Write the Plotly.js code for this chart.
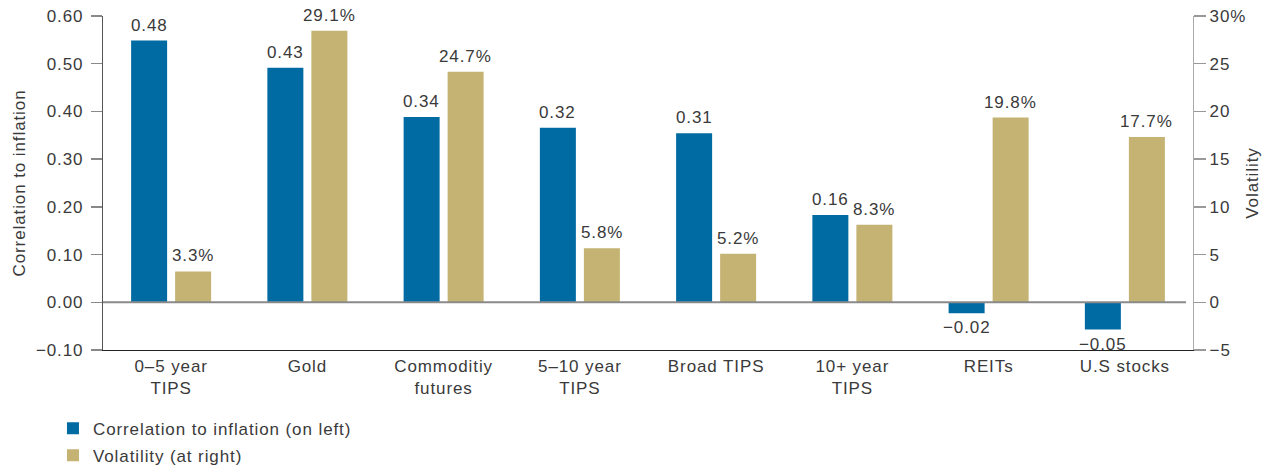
<!DOCTYPE html>
<html>
<head>
<meta charset="utf-8">
<script src="https://cdn.plot.ly/plotly-3.0.1.min.js"></script>
<style>
html,body{margin:0;padding:0;background:#fff;}
#chart{width:1269px;height:468px;}
svg text{letter-spacing:0.9px;}
</style>
</head>
<body>
<div id="chart"></div>
<script>
// ---- data ----
const categories = ['0–5 year<br>TIPS', 'Gold', 'Commoditiy<br>futures', '5–10 year<br>TIPS', 'Broad TIPS', '10+ year<br>TIPS', 'REITs', 'U.S stocks'];
const correlation = [0.48, 0.43, 0.34, 0.32, 0.31, 0.16, -0.02, -0.05];
const volatility = [3.3, 29.1, 24.7, 5.8, 5.2, 8.3, 19.8, 17.7];
const leftTicks = [-0.10, 0.00, 0.10, 0.20, 0.30, 0.40, 0.50, 0.60];
const rightTicks = [-5, 0, 5, 10, 15, 20, 25, 30];
const rightTickText = ['−5', '0', '5', '10', '15', '20', '25', '30%'];

// ---- styles ----
const BLUE = '#006ba3';
const TAN = '#c4b373';
const TEXT = '#3a3a3a';
const FONT = 'Liberation Sans, Arial, sans-serif';
const FS = 17;
const BW = 0.2642;   // bar width (category units)
const GAP = 0.0294;  // half-gap between paired bars

const fmtCorr = v => (v < 0 ? '−' : '') + Math.abs(v).toFixed(2);
const fmtVol = v => v.toFixed(1) + '%';

const traces = [
  { type: 'scatter', x: categories, y: categories.map(() => null), yaxis: 'y', showlegend: false, hoverinfo: 'skip', mode: 'markers' },
  { type: 'scatter', x: categories, y: categories.map(() => null), yaxis: 'y2', showlegend: false, hoverinfo: 'skip', mode: 'markers' },
  { type: 'bar', name: 'Correlation to inflation (on left)', x: categories, y: correlation, yaxis: 'y3',
    legendgroup: 'a', marker: { color: BLUE }, width: BW, offset: -(BW + GAP), hoverinfo: 'skip' },
  { type: 'bar', name: 'Volatility (at right)', x: categories, y: volatility, yaxis: 'y4',
    legendgroup: 'b', marker: { color: TAN }, width: BW, offset: GAP, hoverinfo: 'skip' }
];

const annotations = [];
correlation.forEach((v, i) => {
  annotations.push({ x: i - (GAP + BW / 2), y: v, xref: 'x', yref: 'y3', text: fmtCorr(v),
    showarrow: false, yanchor: v < 0 ? 'top' : 'bottom', yshift: v < 0 ? -3 : 4,
    font: { family: FONT, size: FS, color: TEXT } });
});
volatility.forEach((v, i) => {
  annotations.push({ x: i + (GAP + BW / 2), y: v, xref: 'x', yref: 'y4', text: fmtVol(v),
    showarrow: false, yanchor: 'bottom', yshift: 4,
    font: { family: FONT, size: FS, color: TEXT } });
});

const layout = {
  width: 1269, height: 468,
  margin: { l: 103, r: 76, t: 16, b: 118, autoexpand: false },
  paper_bgcolor: '#fff', plot_bgcolor: '#fff',
  font: { family: FONT, size: FS, color: TEXT },
  showlegend: true,
  legend: { x: -0.0459, y: -0.1817, xanchor: 'left', yanchor: 'top', orientation: 'v',
    traceorder: 'grouped', tracegroupgap: 2,
    font: { family: FONT, size: FS, color: TEXT }, itemwidth: 30 },
  xaxis: { type: 'category', showline: true, linecolor: '#222', linewidth: 1.2,
    ticks: '', showgrid: false, zeroline: false, tickfont: { size: FS, color: TEXT }, fixedrange: true },
  yaxis: { range: [-0.1, 0.6], tickvals: leftTicks, tickformat: '.2f', showgrid: false, zeroline: false,
    showline: true, linecolor: '#555', linewidth: 1.2, ticks: 'outside', ticklen: 11, tickcolor: '#888', tickwidth: 1.5,
    ticklabelstandoff: 4, tickfont: { size: FS, color: TEXT },
    title: { text: 'Correlation to inflation', font: { size: FS, color: TEXT }, standoff: 6 } },
  yaxis2: { range: [-5, 30], overlaying: 'y', side: 'right', tickvals: rightTicks, ticktext: rightTickText,
    showgrid: false, zeroline: false, showline: true, linecolor: '#aaa', linewidth: 1.2,
    ticks: 'outside', ticklen: 12, tickcolor: '#999', tickwidth: 1.5, tickfont: { size: FS, color: TEXT },
    title: { text: 'Volatility', font: { size: FS, color: TEXT }, standoff: 0 } },
  yaxis3: { range: [-0.0875, 0.525], overlaying: 'y', visible: false },
  yaxis4: { range: [-5.112, 30.675], overlaying: 'y', visible: false },
  shapes: [
    { type: 'line', xref: 'paper', yref: 'y', x0: 0, x1: 0.9936, y0: 0, y1: 0,
      line: { color: '#8a8a8a', width: 2 }, layer: 'above' }
  ],
  annotations: annotations
};

Plotly.newPlot('chart', traces, layout, { displayModeBar: false, staticPlot: true });
</script>
</body>
</html>
